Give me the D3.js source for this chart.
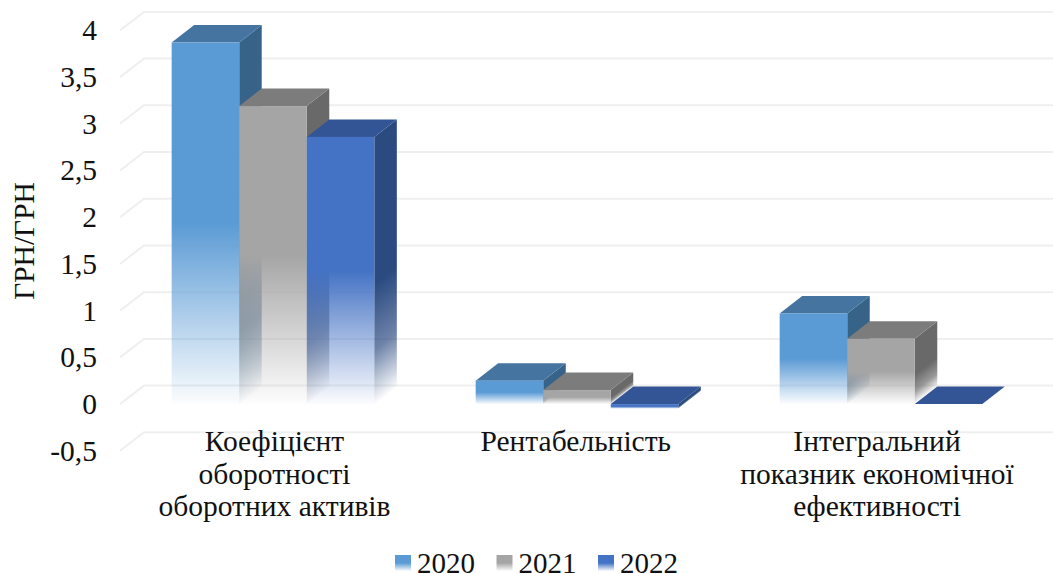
<!DOCTYPE html>
<html>
<head>
<meta charset="utf-8">
<script src="https://cdnjs.cloudflare.com/ajax/libs/d3/7.8.5/d3.min.js"></script>
<style>
  html, body { margin: 0; padding: 0; background: #fff; }
  text { font-family: "Liberation Serif", "Times New Roman", serif; fill: #111; }
</style>
</head>
<body>
<div id="graphArea"></div>
<script>
var years = ["2020", "2021", "2022"];
var categories = ["Коефіцієнт оборотності оборотних активів", "Рентабельність", "Інтегральний показник економічної ефективності"];
var categoryLines = [
  ["Коефіцієнт", "оборотності", "оборотних активів"],
  ["Рентабельність"],
  ["Інтегральний", "показник економічної", "ефективності"]
];
var values2020 = [3.87, 0.25, 0.97];
var values2021 = [3.19, 0.15, 0.70];
var values2022 = [2.86, -0.05, 0];
var seriesValues = [values2020, values2021, values2022];
var yTicks = [-0.5, 0, 0.5, 1, 1.5, 2, 2.5, 3, 3.5, 4];

var frontColors = ["#5b9bd5", "#a5a5a5", "#4472c4"];
var topColors = ["#44749f", "#7c7c7c", "#335595"];
var sideColors = ["#386389", "#696969", "#2a4a80"];

var width = 1053, height = 574;
var wallDx = 24, wallDy = 18.5;   // floor depth of the gridlines
var barDx = 22.5, barDy = 17.5;   // depth of each box

var svg = d3.select("#graphArea").append("svg")
  .attr("width", width)
  .attr("height", height)
  .style("display", "block");

var y = d3.scaleLinear().domain([-0.5, 4]).range([450.8, 30.4]);
var x0 = d3.scaleBand().domain(categories).range([121, 1033]);
var x1 = d3.scaleBand().domain(years)
  .range([0, x0.bandwidth() * 2 / 3]);
var groupPad = x0.bandwidth() / 6;
// the wrapped labels sit a little closer together than the groups
var labelX = d3.scalePoint().domain(categories).range([274.5, 877]);

var defs = svg.append("defs");

// [offset, opacity] pairs for the fade to white
var frontFade = [[0, 1], [0.5, 1], [1, 0.02]];
var sideFade = [[0, 1], [0.55, 1], [0.8, 0.68], [1, 0.02]];

function addFadeStops(grad, color, stops) {
  stops.forEach(function (st) {
    grad.append("stop")
      .attr("offset", st[0])
      .attr("stop-color", color)
      .attr("stop-opacity", st[1]);
  });
}

// front faces fade straight down, one gradient per series
years.forEach(function (yr, s) {
  var g = defs.append("linearGradient")
    .attr("id", "front" + yr)
    .attr("x1", 0).attr("y1", 0).attr("x2", 0).attr("y2", 1);
  addFadeStops(g, frontColors[s], frontFade);
});

// gridlines, bent back along the floor
svg.append("g").selectAll("path")
  .data(yTicks)
  .enter()
  .append("path")
  .attr("d", function (d) {
    var p = d3.path();
    p.moveTo(120, y(d));
    p.lineTo(120 + wallDx, y(d) - wallDy);
    p.lineTo(width + 2, y(d) - wallDy);
    return p.toString();
  })
  .attr("fill", "none")
  .attr("stroke", "#efefef")
  .attr("stroke-width", 2);

// boxes, left to right so nearer faces overlap
var bars = svg.append("g");
categories.forEach(function (cat, c) {
  years.forEach(function (yr, s) {
    var v = seriesValues[s][c];
    var left = x0(cat) + groupPad + x1(yr);
    var w = x1.bandwidth();
    var top = y(Math.max(v, 0));
    var bottom = y(Math.min(v, 0));
    var h = bottom - top;
    var g = bars.append("g");

    // side face: the fade follows the slant of the box
    if (h > 0) {
      var len = Math.sqrt(barDx * barDx + barDy * barDy);
      var proj = h * barDx / len;
      var sideId = "side" + yr + "_" + c;
      var grad = defs.append("linearGradient")
        .attr("id", sideId)
        .attr("gradientUnits", "userSpaceOnUse")
        .attr("x1", left + w).attr("y1", top)
        .attr("x2", left + w + proj * barDy / len)
        .attr("y2", top + proj * barDx / len);
      addFadeStops(grad, sideColors[s], sideFade);
      g.append("path")
        .attr("d", "M" + (left + w) + "," + top +
          "L" + (left + w + barDx) + "," + (top - barDy) +
          "L" + (left + w + barDx) + "," + (bottom - barDy) +
          "L" + (left + w) + "," + bottom + "Z")
        .attr("fill", "url(#" + sideId + ")");
    }

    g.append("path")
      .attr("d", "M" + left + "," + top +
        "L" + (left + barDx) + "," + (top - barDy) +
        "L" + (left + w + barDx) + "," + (top - barDy) +
        "L" + (left + w) + "," + top + "Z")
      .attr("fill", topColors[s]);

    if (h > 0) {
      g.append("rect")
        .attr("x", left)
        .attr("y", top)
        .attr("width", w)
        .attr("height", h)
        .attr("fill", "url(#front" + yr + ")");
    }
  });
});

// y axis labels only, no line
var axis = svg.append("g")
  .attr("transform", "translate(103,0)")
  .call(d3.axisLeft(y)
    .tickValues(yTicks)
    .tickSize(0)
    .tickFormat(function (d) { return String(d).replace(".", ","); }));
axis.select(".domain").remove();
axis.selectAll("text")
  .attr("x", -6)
  .style("font-family", '"Liberation Serif", "Times New Roman", serif')
  .style("font-size", "29.5px")
  .style("fill", "#111");

svg.append("text")
  .attr("transform", "translate(34,241) rotate(-90)")
  .attr("text-anchor", "middle")
  .style("font-size", "29.5px")
  .text("ГРН/ГРН");

// category labels, wrapped by hand
categories.forEach(function (cat, c) {
  var t = svg.append("text")
    .attr("text-anchor", "middle")
    .style("font-size", "29.5px");
  categoryLines[c].forEach(function (line, i) {
    t.append("tspan")
      .attr("x", labelX(cat))
      .attr("y", 451 + i * 32.5)
      .text(line);
  });
});

// legend
var legendX = d3.scalePoint().domain(years).range([395, 598]);
var legend = svg.append("g").selectAll("g")
  .data(years)
  .enter()
  .append("g")
  .attr("transform", function (d) { return "translate(" + legendX(d) + ",555)"; });
legend.append("rect")
  .attr("width", 16)
  .attr("height", 16)
  .attr("fill", function (d) { return "url(#front" + d + ")"; });
legend.append("text")
  .attr("x", 22)
  .attr("y", 17.5)
  .style("font-size", "29px")
  .text(function (d) { return d; });
</script>
</body>
</html>
